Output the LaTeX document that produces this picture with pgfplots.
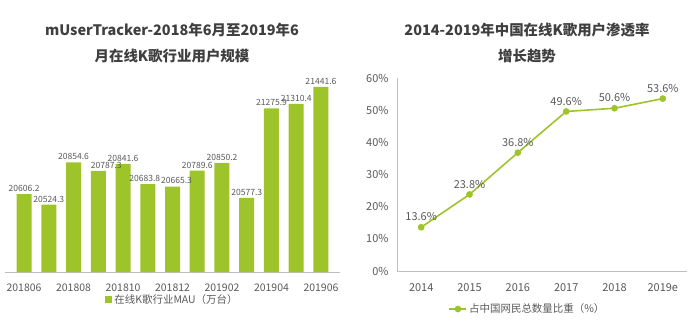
\documentclass[border=0pt]{standalone}
\usepackage{pgfplots}
\usepackage{pgfplotstable}
\pgfplotsset{compat=1.18}
\usepackage{fontspec}
\setmainfont{Noto Sans CJK SC}
\definecolor{kgreen}{HTML}{9DC42A}
\definecolor{txtgray}{HTML}{595959}
\definecolor{ttlgray}{HTML}{3F3F3F}
\definecolor{axgray}{HTML}{BFBFBF}
\pgfplotstableread{
x y lab sh
0 20606.2 20606.2 0
1 20524.3 20524.3 0
2 20854.6 20854.6 0
3 20787.3 20787.3 8
4 20841.6 20841.6 0
5 20683.8 20683.8 -3
6 20665.3 20665.3 4
7 20789.6 20789.6 0
8 20850.2 20850.2 0
9 20577.3 20577.3 0
10 21275.9 21275.9 0
11 21310.4 21310.4 0
12 21441.6 21441.6 0
}\maudata
\begin{document}
\begin{tikzpicture}[x=1bp,y=1bp]
\useasboundingbox (0,0) rectangle (700,327);
% titles
\node[font=\fontsize{14.5}{26}\selectfont\bfseries, text=ttlgray, align=center] at (172,284) {mUserTracker-2018年6月至2019年6\\月在线K歌行业用户规模};
\node[font=\fontsize{14.5}{26}\selectfont\bfseries, text=ttlgray, align=center] at (527,284) {2014-2019年中国在线K歌用户渗透率\\增长趋势};
% left bar chart
\begin{axis}[
  at={(5bp,55bp)}, anchor=south west, scale only axis,
  width=335bp, height=231bp,
  xmin=-0.77, xmax=12.77, ymin=20000, ymax=21800,
  axis y line=none, axis x line*=bottom,
  x axis line style={draw=axgray, line width=0.8bp},
  xtick={0,2,...,12},
  xticklabels={201806,201808,201810,201812,201902,201904,201906},
  major tick length=0,
  tick label style={font=\fontsize{10.5}{12}\selectfont, text=txtgray},
  xticklabel style={yshift=-8bp},
  ybar, bar width=15bp,
  legend style={at={(0.5,-0.121)}, anchor=center, draw=none, fill=none,
    font=\fontsize{10.5}{12}\selectfont, text=txtgray, inner sep=0pt},
  legend image code/.code={\fill[kgreen] (0bp,-3.5bp) rectangle (7bp,3.5bp);},
]
\addplot[fill=kgreen, draw=none,
  point meta=explicit symbolic,
  visualization depends on={\thisrow{sh} \as \lblsh},
  nodes near coords,
  nodes near coords style={font=\fontsize{8.6}{10}\selectfont, text=txtgray, yshift=-1bp, inner xsep=0pt, xshift=\lblsh bp},
] table[x=x, y=y, meta=lab] {\maudata};
\addlegendentry{在线K歌行业MAU（万台）}
\end{axis}
% right line chart
\begin{axis}[
  at={(397bp,56bp)}, anchor=south west, scale only axis,
  width=290bp, height=193bp,
  xmin=-0.5, xmax=5.5, ymin=0, ymax=60,
  axis lines*=left,
  axis line style={draw=axgray, line width=0.8bp},
  xtick={0,1,2,3,4,5},
  xticklabels={2014,2015,2016,2017,2018,2019e},
  ytick={0,10,20,30,40,50,60},
  yticklabels={0\%,10\%,20\%,30\%,40\%,50\%,60\%},
  major tick length=0,
  tick label style={font=\fontsize{11}{12}\selectfont, text=txtgray},
  xticklabel style={yshift=-9bp},
  yticklabel style={xshift=-5bp},
  point meta=explicit symbolic,
  nodes near coords,
  nodes near coords style={font=\fontsize{11}{12}\selectfont, text=txtgray, yshift=2bp},
  legend style={at={(0.45,-0.197)}, anchor=center, draw=none, fill=none,
    font=\fontsize{10.5}{12}\selectfont, text=txtgray, inner sep=0pt},
  clip=false,
]
\addplot[color=kgreen, line width=1.6bp, mark=*, mark size=2.5bp, mark options={fill=kgreen, draw=kgreen}] coordinates {
(0,13.6) [13.6\%]
(1,23.8) [23.8\%]
(2,36.8) [36.8\%]
(3,49.6) [49.6\%]
(4,50.6) [50.6\%]
(5,53.6) [53.6\%]
};
\addlegendentry{占中国网民总数量比重（\%）}
\end{axis}
\end{tikzpicture}
\end{document}
